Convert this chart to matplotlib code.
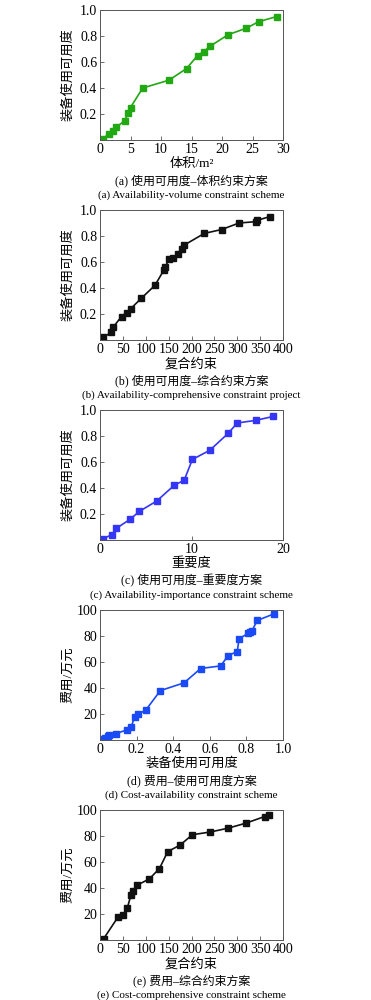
import matplotlib
matplotlib.use('Agg')
import matplotlib.pyplot as plt

plt.rcParams['font.family'] = ['Liberation Serif', 'Noto Sans CJK SC']
plt.rcParams['axes.unicode_minus'] = False

# (a) 使用可用度-体积约束方案
vol_x = [0.5, 1.5, 2.2, 2.7, 4.1, 4.6, 5.0, 7.0, 11.3, 14.2, 16.0, 17.0, 18.0, 21.0, 24.0, 26.0, 29.0]
vol_y = [0.01, 0.05, 0.07, 0.10, 0.15, 0.21, 0.25, 0.40, 0.46, 0.55, 0.65, 0.68, 0.72, 0.81, 0.86, 0.91, 0.95]

# (b) 使用可用度-综合约束方案
comp_x = [7, 25, 29, 47, 58, 67, 90, 120, 140, 142, 151, 159, 170, 179, 184, 228, 266, 304, 340, 343, 372]
comp_y = [0.02, 0.06, 0.10, 0.18, 0.21, 0.24, 0.32, 0.42, 0.54, 0.56, 0.62, 0.63, 0.66, 0.70, 0.73, 0.82, 0.85, 0.90, 0.91, 0.92, 0.95]

# (c) 使用可用度-重要度方案
imp_x = [0.3, 1.3, 1.8, 3.3, 4.3, 6.2, 8.1, 9.2, 10.1, 12.0, 14.0, 15.0, 17.0, 18.9]
imp_y = [0.01, 0.04, 0.09, 0.16, 0.22, 0.30, 0.42, 0.46, 0.62, 0.69, 0.82, 0.90, 0.92, 0.95]

# (d) 费用-使用可用度方案
cost_av_x = [0.024, 0.03, 0.045, 0.05, 0.09, 0.15, 0.17, 0.19, 0.21, 0.25, 0.33, 0.46, 0.55, 0.66,
             0.70, 0.75, 0.76, 0.81, 0.82, 0.83, 0.86, 0.95]
cost_av_y = [0.5, 1.5, 3, 4, 5, 8, 10, 18, 20, 23, 38, 44, 55, 57, 65, 68, 78, 82, 83, 84, 92, 97]

# (e) 费用-综合约束方案
cost_comp_x = [8, 40, 50, 60, 68, 73, 80, 108, 130, 148, 175, 202, 240, 280, 320, 360, 370]
cost_comp_y = [1, 18, 19, 25, 35, 38, 42, 47, 55, 68, 73, 81, 83, 86, 90, 95, 96]

panels = [
    (vol_x, vol_y, '#22a812', (0, 30), [0, 5, 10, 15, 20, 25, 30], (0, 1.0), [0.2, 0.4, 0.6, 0.8, 1.0],
     '装备使用可用度', '体积/m²', '(a) 使用可用度–体积约束方案', '(a) Availability-volume constraint scheme'),
    (comp_x, comp_y, '#111111', (0, 400), list(range(0, 401, 50)), (0, 1.0), [0.2, 0.4, 0.6, 0.8, 1.0],
     '装备使用可用度', '复合约束', '(b) 使用可用度–综合约束方案', '(b) Availability-comprehensive constraint project'),
    (imp_x, imp_y, '#3535f5', (0, 20), [0, 10, 20], (0, 1.0), [0.2, 0.4, 0.6, 0.8, 1.0],
     '装备使用可用度', '重要度', '(c) 使用可用度–重要度方案', '(c) Availability-importance constraint scheme'),
    (cost_av_x, cost_av_y, '#1a4af5', (0, 1.0), [0, 0.2, 0.4, 0.6, 0.8, 1.0], (0, 100), [20, 40, 60, 80, 100],
     '费用/万元', '装备使用可用度', '(d) 费用–使用可用度方案', '(d) Cost-availability constraint scheme'),
    (cost_comp_x, cost_comp_y, '#111111', (0, 400), list(range(0, 401, 50)), (0, 100), [20, 40, 60, 80, 100],
     '费用/万元', '复合约束', '(e) 费用–综合约束方案', '(e) Cost-comprehensive constraint scheme'),
]

fig = plt.figure(figsize=(3.71, 10), dpi=100)

for i, (x, y, color, xlim, xticks, ylim, yticks, ylab, xlab, cap_cn, cap_en) in enumerate(panels):
    top = 10 + i * 200
    ax = fig.add_axes([100 / 371, 1 - (top + 130) / 1000, 183 / 371, 130 / 1000])
    ax.plot(x, y, color=color, lw=1.2, marker='s', ms=3.8)
    ax.set_xlim(*xlim)
    ax.set_ylim(*ylim)
    ax.set_xticks(xticks)
    ax.set_yticks(yticks)
    if xlim[1] == 1.0:
        ax.set_xticklabels(['0'] + ['%.1f' % t for t in xticks[1:]])
    elif ylim[1] == 1.0:
        ax.set_yticklabels(['%.1f' % t for t in yticks])
    ax.tick_params(direction='in', length=3, width=0.6, labelsize=10, pad=2, color='#555555')
    for s in ax.spines.values():
        s.set_linewidth(0.7)
        s.set_color('#555555')
    ax.set_ylabel(ylab, fontsize=9.5)
    ax.yaxis.set_label_coords(-0.14, 0.5)
    ax.set_xlabel(xlab, fontsize=9.5)
    ax.xaxis.set_label_coords(0.5, -0.135)
    cx = (100 + 283) / 2 / 371
    fig.text(cx, 1 - (top + 171) / 1000, cap_cn, ha='center', va='center', fontsize=8.6)
    fig.text(cx, 1 - (top + 185) / 1000, cap_en, ha='center', va='center', fontsize=8.0)

fig.savefig('out.png', dpi=100)
